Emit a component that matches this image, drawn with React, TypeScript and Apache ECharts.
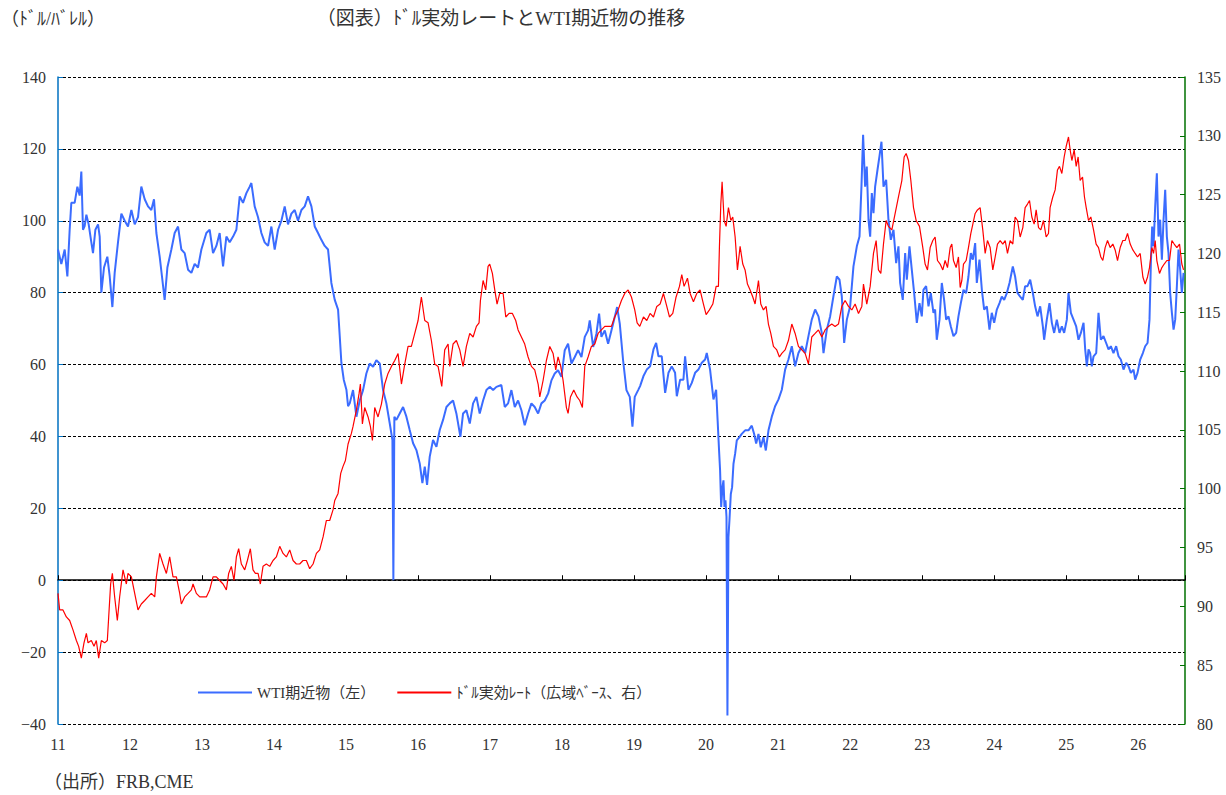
import { useEffect, useRef } from 'react';
import * as echarts from 'echarts';

// x values are years (11 = 2011.0)
const wtiSeries: [number, number][] = [
  [11.000,92],[11.046,88],[11.093,92],[11.130,84.5],[11.162,97.5],[11.185,105],[11.231,105],[11.269,109.5],[11.301,107],[11.324,113.7],[11.347,97.5],[11.370,98.5],[11.394,101.7],[11.426,99],[11.463,94],[11.486,91],[11.519,97.5],[11.556,99],[11.579,95.6],[11.602,80],[11.639,87],[11.685,90],[11.718,84.5],[11.755,76],[11.787,85.5],[11.833,94],[11.880,102],[11.926,100],[11.972,98.4],
  [12.019,103],[12.065,99],[12.111,101],[12.157,109.5],[12.204,106],[12.250,104],[12.296,103],[12.333,106],[12.366,96.6],[12.412,90],[12.444,84.5],[12.481,78],[12.519,87],[12.574,92],[12.620,96.6],[12.667,98.4],[12.713,92],[12.759,91],[12.806,86.4],[12.852,85.5],[12.898,88],[12.944,87],[12.991,92],
  [13.060,96.6],[13.106,97.5],[13.153,91],[13.199,93],[13.245,96.6],[13.292,87.3],[13.338,95.6],[13.384,94],[13.431,95.6],[13.477,97.5],[13.523,106.8],[13.569,105],[13.616,107.7],[13.662,109.5],[13.685,110.5],[13.731,104],[13.778,101],[13.824,96.6],[13.870,94],[13.917,93],[13.963,98.4],
  [14.009,92],[14.056,97.5],[14.102,100],[14.148,104],[14.194,99],[14.241,102],[14.287,103],[14.333,100],[14.380,103],[14.426,104],[14.472,106.8],[14.519,104],[14.565,98.4],[14.611,96.6],[14.657,94.7],[14.704,93],[14.750,92],[14.796,82.7],[14.843,78],[14.889,75.3],[14.912,68],[14.935,60.5],[14.968,55.8],
  [15.005,53],[15.028,48.4],[15.051,49.2],[15.097,52.9],[15.144,45.5],[15.190,50],[15.236,52.9],[15.282,57.5],[15.329,60.3],[15.375,59.4],[15.421,61.2],[15.468,60.3],[15.514,52.9],[15.560,49.2],[15.607,43.6],[15.644,39],[15.657,0],[15.671,45.5],[15.699,44.6],[15.745,46.4],[15.792,48.2],[15.838,45.5],[15.884,41.8],[15.931,38.1],[15.977,36.2],
  [16.023,32.5],[16.060,27],[16.093,31.6],[16.125,26.5],[16.162,34.4],[16.208,39],[16.255,37.1],[16.301,41.8],[16.347,44.6],[16.394,48.2],[16.440,49.2],[16.486,50],[16.532,46.4],[16.588,39.9],[16.625,46.4],[16.671,47.3],[16.718,43.6],[16.764,49.2],[16.810,51],[16.856,46.4],[16.903,50],[16.949,52.9],[16.995,53.8],
  [17.042,52.9],[17.088,53.8],[17.157,54.3],[17.204,48.2],[17.250,49.2],[17.296,52.9],[17.343,48.2],[17.389,50],[17.435,47.3],[17.481,43.1],[17.528,46.4],[17.574,49.2],[17.620,48.2],[17.667,46.4],[17.713,49.2],[17.759,50],[17.806,51.9],[17.852,55.6],[17.898,57.5],[17.944,58.4],[17.991,56.6],
  [18.037,64],[18.083,65.8],[18.130,60.3],[18.176,62.1],[18.222,64],[18.269,62.1],[18.315,67.7],[18.361,69.5],[18.384,72.3],[18.431,64.9],[18.477,68.6],[18.514,74.2],[18.546,67.7],[18.593,69.5],[18.639,65.8],[18.685,69.5],[18.731,73.2],[18.764,76],[18.801,71.4],[18.847,61.2],[18.894,52.9],[18.940,51],[18.977,42.7],
  [19.009,51],[19.056,52.9],[19.083,54],[19.130,56.8],[19.176,58.6],[19.222,59.5],[19.269,64.2],[19.306,66],[19.338,62.3],[19.384,62.3],[19.431,52.1],[19.477,57.7],[19.523,59.5],[19.569,57.7],[19.593,51.2],[19.639,55.8],[19.685,55.8],[19.708,62.3],[19.754,53],[19.801,54.9],[19.847,57.7],[19.893,58.6],[19.940,60.5],[19.986,61.4],
  [20.009,63.2],[20.055,58.6],[20.102,50.3],[20.139,53],[20.160,44.4],[20.180,36],[20.194,30.6],[20.209,20.4],[20.227,25.9],[20.241,27.8],[20.255,20.4],[20.269,22.2],[20.283,17.6],[20.296,-37.6],[20.310,12],[20.324,16.7],[20.343,24],[20.361,25.9],[20.380,32.4],[20.403,35.2],[20.426,38.9],[20.463,39.8],[20.495,40.7],[20.542,41.7],[20.588,41.7],[20.634,43],[20.667,40.7],[20.695,38],[20.727,40.7],[20.759,37],[20.796,39.8],[20.829,36.1],[20.866,41.7],[20.912,45.5],[20.958,48.4],
  [21.005,50.3],[21.051,53],[21.097,58.6],[21.143,61.4],[21.190,65.1],[21.236,59.5],[21.282,63.2],[21.329,65.1],[21.375,63.2],[21.421,67.9],[21.467,72.5],[21.514,75.3],[21.560,73.4],[21.606,68.8],[21.630,63.2],[21.676,69.7],[21.722,73.4],[21.768,79],[21.815,84.5],[21.852,83.6],[21.884,79],[21.917,66],[21.954,72.5],
  [22.000,76.2],[22.046,87.3],[22.093,92.9],[22.130,95.6],[22.157,109.5],[22.180,123.9],[22.208,109.5],[22.231,115.1],[22.255,100.3],[22.278,95.6],[22.301,107.7],[22.324,102.1],[22.347,109.5],[22.380,114.2],[22.407,117.9],[22.435,122],[22.463,109.5],[22.500,111.4],[22.532,100.3],[22.565,94.7],[22.602,97.5],[22.639,88.2],[22.671,92.9],[22.694,82.7],[22.731,78],[22.764,91],[22.787,83.6],[22.824,92.9],[22.856,86.4],[22.889,79.9],[22.926,71.6],[22.963,77.1],[22.995,73.4],
  [23.018,80.8],[23.055,81.8],[23.088,76.2],[23.120,79.9],[23.157,74.4],[23.180,75.3],[23.203,66.9],[23.241,72.5],[23.273,82.7],[23.305,78],[23.333,72.5],[23.366,73.4],[23.398,70.6],[23.435,67.9],[23.472,68.8],[23.504,73.4],[23.537,77.1],[23.574,80.8],[23.611,79.9],[23.643,84.5],[23.676,91],[23.704,89.2],[23.736,93.8],[23.759,82.7],[23.796,89.2],[23.829,80.8],[23.861,75.3],[23.898,76.2],[23.935,69.7],[23.967,74.4],
  [24.000,71.6],[24.037,75.3],[24.074,77.1],[24.106,78.9],[24.139,78],[24.176,79.9],[24.213,82.7],[24.231,84.5],[24.259,87.3],[24.291,84.5],[24.324,79.9],[24.361,78.9],[24.398,78],[24.430,81.8],[24.463,81.8],[24.500,83.6],[24.537,79.9],[24.569,76.2],[24.602,73.4],[24.639,76.2],[24.676,70.6],[24.694,66.9],[24.731,72.5],[24.768,77.1],[24.801,71.6],[24.833,68.8],[24.870,72.5],[24.907,68.8],[24.940,70.6],[24.972,68.8],
  [25.009,72.5],[25.032,79.9],[25.065,74.4],[25.102,72.5],[25.139,70.6],[25.171,66.9],[25.204,68.8],[25.241,71.6],[25.264,64.2],[25.287,59.5],[25.310,64.2],[25.333,63.2],[25.356,59.5],[25.380,62.3],[25.417,63.2],[25.449,74.4],[25.481,66.9],[25.518,67.9],[25.555,66],[25.588,64.2],[25.620,65.1],[25.657,63.2],[25.694,65.1],[25.727,62.3],[25.759,61.4],[25.796,58.6],[25.833,60.5],[25.866,59.5],[25.898,57.7],[25.935,58.6],[25.958,55.8],[25.991,57.7],
  [26.028,61.4],[26.065,63.2],[26.097,65.1],[26.130,66],[26.157,72.5],[26.176,88.2],[26.194,98.4],[26.213,92.9],[26.236,104],[26.259,113.2],[26.282,95.6],[26.305,100.3],[26.329,89.2],[26.352,100.3],[26.375,108.6],[26.398,95.6],[26.421,91],[26.444,79.9],[26.468,74.4],[26.491,69.7],[26.514,72.5],[26.537,81.8],[26.560,92],[26.583,86.4],[26.606,79.9],[26.630,85.5]
];

const usdSeries: [number, number][] = [
  [11.000,91.1],[11.023,89.7],[11.069,89.7],[11.116,89.1],[11.162,88.8],[11.208,88.0],[11.255,87.1],[11.287,86.6],[11.324,85.6],[11.361,86.9],[11.394,87.7],[11.417,86.9],[11.463,87.1],[11.500,86.6],[11.532,87.1],[11.565,85.6],[11.602,87.1],[11.648,86.9],[11.685,87.1],[11.704,89.1],[11.731,91.9],[11.755,92.8],[11.787,90.8],[11.824,88.8],[11.856,90.8],[11.903,93.1],[11.949,91.9],[11.972,92.8],
  [12.019,92.5],[12.065,91.1],[12.111,89.7],[12.157,90.2],[12.204,90.5],[12.250,90.8],[12.296,91.1],[12.343,90.8],[12.366,92.5],[12.412,94.5],[12.458,93.6],[12.505,92.8],[12.551,94.2],[12.597,92.5],[12.644,92.5],[12.690,91.1],[12.713,90.2],[12.759,90.8],[12.806,91.1],[12.852,91.4],[12.875,91.9],[12.921,91.1],[12.968,90.8],
  [13.014,90.8],[13.060,90.8],[13.106,91.4],[13.153,92.5],[13.199,92.5],[13.245,92.2],[13.292,91.9],[13.338,91.4],[13.370,92.8],[13.407,93.4],[13.444,92.2],[13.477,94.2],[13.509,94.9],[13.546,93.6],[13.593,93.1],[13.630,93.9],[13.671,94.9],[13.708,93.1],[13.741,92.8],[13.778,92.8],[13.810,91.9],[13.847,93.4],[13.894,93.6],[13.940,93.4],[13.986,93.9],
  [14.032,94.2],[14.079,95.1],[14.125,94.5],[14.171,94.2],[14.218,94.8],[14.264,93.9],[14.310,93.6],[14.356,93.6],[14.403,93.9],[14.449,93.9],[14.495,93.2],[14.542,93.6],[14.588,94.5],[14.634,94.8],[14.681,95.9],[14.727,97.3],[14.773,97.3],[14.819,98.2],[14.843,99.0],[14.889,99.6],[14.926,101.3],[14.958,101.9],[14.991,102.4],
  [15.028,103.8],[15.074,104.7],[15.097,105.3],[15.144,106.7],[15.181,108.1],[15.199,108.9],[15.227,105.5],[15.259,106.9],[15.306,106.1],[15.338,105.3],[15.366,104.1],[15.398,106.9],[15.444,106.1],[15.491,107.2],[15.537,108.9],[15.583,109.8],[15.630,110.4],[15.676,110.9],[15.722,111.5],[15.769,108.9],[15.815,110.6],[15.861,112.1],[15.907,112.1],[15.954,113.2],
  [16.000,114.3],[16.046,116.3],[16.093,114.3],[16.139,114.1],[16.185,112.6],[16.231,110.6],[16.278,110.4],[16.329,108.7],[16.370,111.8],[16.417,112.3],[16.440,110.4],[16.486,112.3],[16.532,112.6],[16.579,111.8],[16.625,110.4],[16.671,112.1],[16.718,113.2],[16.764,112.9],[16.810,113.8],[16.847,114.1],[16.866,116.0],[16.903,117.7],[16.940,116.9],[16.972,118.9],[16.995,119.1],
  [17.032,118.3],[17.065,116.9],[17.097,115.7],[17.134,116.6],[17.181,116.6],[17.218,114.6],[17.264,114.9],[17.310,114.9],[17.356,114.3],[17.389,113.5],[17.435,112.9],[17.481,112.3],[17.528,111.2],[17.574,110.4],[17.620,110.1],[17.667,108.9],[17.690,107.8],[17.736,109.2],[17.782,110.9],[17.829,112.1],[17.875,111.5],[17.912,110.1],[17.944,111.2],[17.981,110.4],
  [18.014,109.2],[18.060,106.9],[18.083,106.4],[18.116,107.8],[18.162,108.4],[18.208,107.8],[18.245,107.5],[18.282,106.9],[18.315,110.4],[18.361,111.2],[18.407,112.1],[18.454,112.3],[18.500,113.2],[18.546,113.5],[18.593,113.8],[18.639,113.8],[18.685,113.8],[18.731,114.6],[18.778,115.2],[18.824,116.0],[18.870,116.6],[18.917,116.9],[18.963,116.3],
  [19.009,115.2],[19.042,114.1],[19.079,113.8],[19.130,114.6],[19.176,114.3],[19.222,114.9],[19.269,114.6],[19.315,115.5],[19.361,115.7],[19.407,116.6],[19.454,115.5],[19.491,114.6],[19.537,114.9],[19.583,116.3],[19.630,117.2],[19.662,118.2],[19.694,117.2],[19.741,117.9],[19.778,116.6],[19.824,115.9],[19.870,116.6],[19.916,116.9],[19.963,115.7],
  [20.000,114.8],[20.046,115.2],[20.093,115.7],[20.139,117.2],[20.171,117.2],[20.185,120.6],[20.204,124.2],[20.222,126.1],[20.250,122.8],[20.278,122.3],[20.310,123.9],[20.343,122.8],[20.370,123.1],[20.403,121.4],[20.435,118.6],[20.472,120.6],[20.509,119.1],[20.541,118.6],[20.574,117.4],[20.611,116.9],[20.648,116.3],[20.680,115.7],[20.727,117.7],[20.759,115.7],[20.796,115.2],[20.833,115.5],[20.865,114.0],[20.898,113.2],[20.935,112.1],[20.981,111.8],
  [21.018,111.2],[21.051,111.5],[21.097,111.8],[21.143,112.6],[21.190,114.0],[21.236,113.2],[21.282,112.1],[21.329,111.8],[21.375,111.5],[21.421,110.6],[21.467,112.9],[21.514,113.2],[21.560,113.5],[21.606,112.9],[21.652,113.5],[21.699,113.8],[21.745,114.0],[21.791,113.8],[21.838,114.0],[21.884,115.5],[21.930,116.0],[21.977,115.5],
  [22.023,115.2],[22.069,115.7],[22.116,114.9],[22.162,115.5],[22.185,117.4],[22.231,115.7],[22.278,117.2],[22.324,120.0],[22.361,121.1],[22.393,118.6],[22.426,118.3],[22.463,120.8],[22.500,122.8],[22.532,122.3],[22.579,122.0],[22.625,123.4],[22.671,124.8],[22.718,126.2],[22.750,128.2],[22.778,128.5],[22.810,127.9],[22.843,126.2],[22.880,123.9],[22.917,122.8],[22.963,122.3],
  [23.009,120.5],[23.041,119.1],[23.074,118.6],[23.111,120.5],[23.148,121.1],[23.180,121.4],[23.213,119.4],[23.250,119.1],[23.287,118.6],[23.319,119.4],[23.352,118.8],[23.389,120.5],[23.412,120.8],[23.435,119.4],[23.472,118.8],[23.504,119.7],[23.528,117.1],[23.551,117.7],[23.574,119.1],[23.611,119.4],[23.643,120.5],[23.676,121.7],[23.704,122.5],[23.736,123.4],[23.768,123.7],[23.805,123.9],[23.842,122.0],[23.875,120.0],[23.907,121.1],[23.944,120.5],[23.981,118.6],
  [24.014,119.7],[24.046,120.8],[24.083,121.1],[24.120,120.8],[24.153,121.1],[24.185,120.0],[24.222,121.1],[24.259,120.8],[24.291,123.1],[24.324,122.8],[24.361,121.4],[24.398,122.2],[24.430,123.9],[24.463,124.2],[24.491,124.5],[24.523,123.1],[24.555,122.5],[24.583,123.7],[24.616,122.2],[24.648,122.0],[24.685,122.8],[24.722,121.4],[24.754,121.7],[24.777,123.9],[24.814,124.8],[24.847,125.4],[24.879,127.1],[24.907,127.4],[24.940,126.8],[24.972,128.2],
  [25.000,129.1],[25.032,129.9],[25.055,128.8],[25.079,127.9],[25.111,128.8],[25.139,127.4],[25.166,128.2],[25.194,126.2],[25.227,126.5],[25.254,124.8],[25.278,123.9],[25.310,122.8],[25.342,123.1],[25.380,122.0],[25.416,120.8],[25.449,120.5],[25.481,119.7],[25.509,119.4],[25.541,120.5],[25.574,121.1],[25.611,120.5],[25.648,120.8],[25.680,120.3],[25.713,119.4],[25.750,120.5],[25.787,121.1],[25.819,121.1],[25.852,121.7],[25.889,120.8],[25.926,120.3],[25.958,120.0],[25.991,119.7],
  [26.028,120.0],[26.065,118.0],[26.097,117.4],[26.130,118.0],[26.157,118.8],[26.190,120.5],[26.213,120.0],[26.236,121.1],[26.259,119.4],[26.296,118.3],[26.329,118.8],[26.361,119.1],[26.398,119.4],[26.435,119.4],[26.468,121.1],[26.500,120.8],[26.537,120.5],[26.574,120.8],[26.606,119.1],[26.630,118.6]
];

const seriesNames = ['WTI期近物（左）', 'ﾄﾞﾙ実効ﾚｰﾄ（広域ﾍﾞｰｽ、右）'];
const titleText = '（図表）ﾄﾞﾙ実効レートとWTI期近物の推移';
const unitText = '（ﾄﾞﾙ/ﾊﾞﾚﾙ）';
const sourceText = '（出所）FRB,CME';

const FONT = '"Liberation Serif", "Noto Sans CJK JP", serif';
const TXT = '#333';

export default function App() {
  const ref = useRef<HTMLDivElement>(null);
  useEffect(() => {
    const chart = echarts.init(ref.current!, null, { renderer: 'svg' });
    chart.setOption({
      animation: false,
      backgroundColor: '#fff',
      grid: { left: 58, right: 41, top: 77, bottom: 71 },
      legend: {
        left: 193,
        top: 680,
        icon: 'rect',
        itemWidth: 54,
        itemHeight: 2,
        itemGap: 22,
        data: seriesNames,
        textStyle: { fontFamily: FONT, fontSize: 15, color: TXT },
      },
      graphic: [
        { type: 'text', x: 1, y: 19, style: { text: unitText, font: `18px ${FONT}`, fill: TXT, textAlign: 'left', textVerticalAlign: 'middle' } },
        { type: 'text', x: 501, y: 18, style: { text: titleText, font: `19px ${FONT}`, fill: TXT, textAlign: 'center', textVerticalAlign: 'middle' } },
        { type: 'text', x: 44, y: 782, style: { text: sourceText, font: `18px ${FONT}`, fill: TXT, textAlign: 'left', textVerticalAlign: 'middle' } },
      ],
      xAxis: [
        {
          type: 'value', min: 11, max: 26.65, interval: 1, position: 'bottom',
          axisLine: { show: false, onZero: false },
          axisTick: { show: false },
          splitLine: { show: false },
          axisLabel: {
            margin: 12, color: TXT, fontFamily: FONT, fontSize: 16, showMaxLabel: false,
            formatter: (v: number) => (Math.abs(v - Math.round(v)) < 1e-6 ? String(Math.round(v)) : ''),
          },
        },
        {
          type: 'value', min: 11, max: 26.65, interval: 1, position: 'bottom',
          axisLine: { show: true, onZero: true, lineStyle: { color: '#000', width: 1.5 } },
          axisTick: { show: true, inside: true, length: 5, lineStyle: { color: '#000' } },
          axisLabel: { show: false },
          splitLine: { show: false },
        },
      ],
      yAxis: [
        {
          type: 'value', min: -40, max: 140, interval: 20, position: 'left',
          axisLine: { show: true, onZero: false, lineStyle: { color: '#0070C0', width: 1.5 } },
          axisTick: { show: true, inside: true, length: 5, lineStyle: { color: '#0070C0' } },
          axisLabel: {
            margin: 12, color: TXT, fontFamily: FONT, fontSize: 16,
            formatter: (v: number) => (v < 0 ? '−' + Math.abs(v) : String(v)),
          },
          splitLine: { show: true, lineStyle: { color: '#000', type: [3, 2], width: 1 } },
        },
        {
          type: 'value', min: 80, max: 135, interval: 5, position: 'right',
          axisLine: { show: true, onZero: false, lineStyle: { color: '#007000', width: 1.5 } },
          axisTick: { show: true, inside: true, length: 5, lineStyle: { color: '#007000' } },
          axisLabel: { margin: 12, color: TXT, fontFamily: FONT, fontSize: 16 },
          splitLine: { show: false },
        },
      ],
      series: [
        {
          name: seriesNames[0], type: 'line', xAxisIndex: 0, yAxisIndex: 0,
          data: wtiSeries, showSymbol: false, color: '#3b6cff',
          lineStyle: { color: '#3b6cff', width: 2 },
        },
        {
          name: seriesNames[1], type: 'line', xAxisIndex: 0, yAxisIndex: 1,
          data: usdSeries, showSymbol: false, color: '#ff0000',
          lineStyle: { color: '#ff0000', width: 1.2 },
        },
      ],
    });
    return () => chart.dispose();
  }, []);
  return (
    <div
      ref={ref}
      style={{ position: 'fixed', left: 0, top: 0, width: 1226, height: 795, background: '#fff' }}
    />
  );
}
